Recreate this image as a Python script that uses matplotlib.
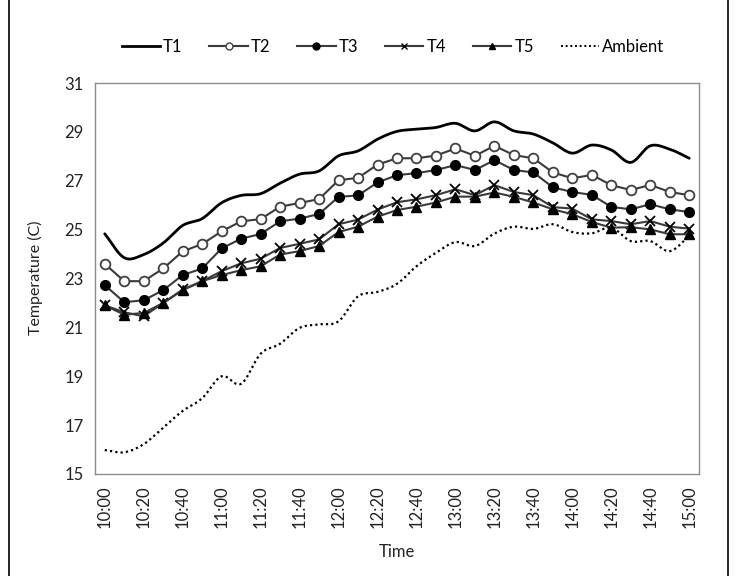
import numpy as np
import matplotlib
matplotlib.use("Agg")
import matplotlib.pyplot as plt
from matplotlib.lines import Line2D

times = ["10:00", "10:10", "10:20", "10:30", "10:40", "10:50", "11:00", "11:10", "11:20", "11:30",
         "11:40", "11:50", "12:00", "12:10", "12:20", "12:30", "12:40", "12:50", "13:00", "13:10",
         "13:20", "13:30", "13:40", "13:50", "14:00", "14:10", "14:20", "14:30", "14:40", "14:50", "15:00"]

t1 = [24.83, 23.85, 23.98, 24.45, 25.17, 25.45, 26.10, 26.40, 26.47, 26.90, 27.27, 27.40, 28.02, 28.22,
      28.70, 29.02, 29.11, 29.18, 29.35, 29.04, 29.41, 29.04, 28.91, 28.55, 28.13, 28.46, 28.26, 27.75,
      28.43, 28.29, 27.92]
t2 = [23.60, 22.89, 22.89, 23.41, 24.11, 24.41, 24.93, 25.34, 25.43, 25.94, 26.09, 26.25, 27.02, 27.12,
      27.66, 27.92, 27.92, 28.03, 28.32, 28.02, 28.43, 28.05, 27.92, 27.34, 27.10, 27.24, 26.82, 26.62,
      26.83, 26.54, 26.41]
t3 = [22.73, 22.03, 22.11, 22.52, 23.14, 23.41, 24.23, 24.63, 24.82, 25.34, 25.45, 25.64, 26.34, 26.40,
      26.93, 27.23, 27.31, 27.44, 27.64, 27.44, 27.84, 27.44, 27.34, 26.73, 26.54, 26.42, 25.93, 25.83,
      26.04, 25.83, 25.72]
t4 = [21.90, 21.62, 21.45, 22.00, 22.55, 22.89, 23.30, 23.62, 23.81, 24.25, 24.42, 24.60, 25.22, 25.41,
      25.82, 26.12, 26.24, 26.41, 26.65, 26.41, 26.82, 26.54, 26.41, 25.92, 25.86, 25.42, 25.35, 25.22,
      25.35, 25.12, 25.04]
t5 = [21.90, 21.52, 21.59, 22.00, 22.52, 22.89, 23.14, 23.34, 23.50, 23.98, 24.12, 24.33, 24.90, 25.12,
      25.53, 25.80, 25.94, 26.11, 26.35, 26.35, 26.52, 26.34, 26.11, 25.83, 25.63, 25.31, 25.08, 25.10,
      25.01, 24.81, 24.81]
ambient = [15.98, 15.89, 16.22, 16.90, 17.58, 18.10, 19.00, 18.69, 19.92, 20.33, 20.98, 21.12, 21.25,
           22.27, 22.45, 22.78, 23.50, 24.05, 24.49, 24.33, 24.84, 25.12, 25.03, 25.22, 24.90, 24.85,
           25.08, 24.53, 24.53, 24.12, 24.74]

y_ticks = [15, 17, 19, 21, 23, 25, 27, 29, 31]

plt.rcParams['font.family'] = ['Lato', 'DejaVu Sans']


def smooth(xs, ys, n=12):
    """Catmull-Rom curve through the points (Excel 'smoothed line' look)."""
    xs = np.asarray(xs, float)
    ys = np.asarray(ys, float)
    px = np.concatenate([[2 * xs[0] - xs[1]], xs, [2 * xs[-1] - xs[-2]]])
    py = np.concatenate([[2 * ys[0] - ys[1]], ys, [2 * ys[-1] - ys[-2]]])
    ox, oy = [], []
    for i in range(1, len(px) - 2):
        t = np.linspace(0, 1, n, endpoint=False)
        for p, out in ((px, ox), (py, oy)):
            p0, p1, p2, p3 = p[i - 1], p[i], p[i + 1], p[i + 2]
            out.extend(0.5 * ((2 * p1) + (-p0 + p2) * t + (2 * p0 - 5 * p1 + 4 * p2 - p3) * t ** 2
                              + (-p0 + 3 * p1 - 3 * p2 + p3) * t ** 3))
    ox.append(xs[-1])
    oy.append(ys[-1])
    return np.array(ox), np.array(oy)


fig = plt.figure(figsize=(7.37, 5.76), dpi=100)
W, H = 737, 576
ax = fig.add_axes([95 / W, (H - 474) / H, (699 - 95) / W, (474 - 83) / H])

x = np.arange(len(times))
line_col = '#3a3a3a'

sx, sy = smooth(x, t1)
ax.plot(sx, sy, color='black', lw=2.0, solid_capstyle='round')
ax.plot(x, t2, color=line_col, lw=1.5, marker='o', ms=7, mfc='white', mec='#404040', mew=1.3)
ax.plot(x, t3, color=line_col, lw=1.5, marker='o', ms=7, mfc='black', mec='black')
ax.plot(x, t4, color=line_col, lw=1.5, marker='x', ms=7, mec='black', mew=1.3)
ax.plot(x, t5, color=line_col, lw=1.5, marker='^', ms=7, mfc='black', mec='black')
ax2x, ax2y = smooth(x, ambient)
ax.plot(ax2x, ax2y, color='black', lw=1.6, linestyle=(0, (1, 1.4)))

ax.set_xlim(-0.5, len(times) - 0.5)
ax.set_ylim(15, 31)
ax.set_yticks(y_ticks)
ax.set_yticklabels([str(v) for v in y_ticks], fontsize=12, color='#222222')
ax.set_xticks(x[::2])
ax.set_xticklabels(times[::2], rotation=90, fontsize=12, color='#222222')
ax.tick_params(axis='both', length=0, pad=8)
for s in ax.spines.values():
    s.set_color('#8c8c8c')
    s.set_linewidth(1.0)

fig.text(35 / W, 1 - 278 / H, 'Temperature (C)', rotation=90, ha='center', va='center', fontsize=11.5,
         color='#222222')
fig.text(397 / W, 1 - 552 / H, 'Time', ha='center', va='center', fontsize=12, color='#222222')

handles = [
    Line2D([], [], color='black', lw=2.0),
    Line2D([], [], color=line_col, lw=1.5, marker='o', ms=5, mfc='white', mec='#404040'),
    Line2D([], [], color=line_col, lw=1.5, marker='o', ms=5, mfc='black', mec='black'),
    Line2D([], [], color=line_col, lw=1.5, marker='x', ms=5, mec='black'),
    Line2D([], [], color=line_col, lw=1.5, marker='^', ms=5, mfc='black', mec='black'),
    Line2D([], [], color='black', lw=1.4, linestyle=(0, (1, 1.4))),
]
fig.legend(handles, ['T1', 'T2', 'T3', 'T4', 'T5', 'Ambient'], loc='center',
           bbox_to_anchor=(393 / W, 1 - 47 / H), ncol=6, frameon=False, fontsize=12,
           handlelength=2.3, handletextpad=0.2, columnspacing=1.6)

# outer frame lines of the image
fig.add_artist(Line2D([9 / W, 9 / W], [0, 1], transform=fig.transFigure, color='black', lw=1.2))
fig.add_artist(Line2D([728 / W, 728 / W], [0, 1], transform=fig.transFigure, color='black', lw=1.2))

fig.savefig('out.png', dpi=100)
